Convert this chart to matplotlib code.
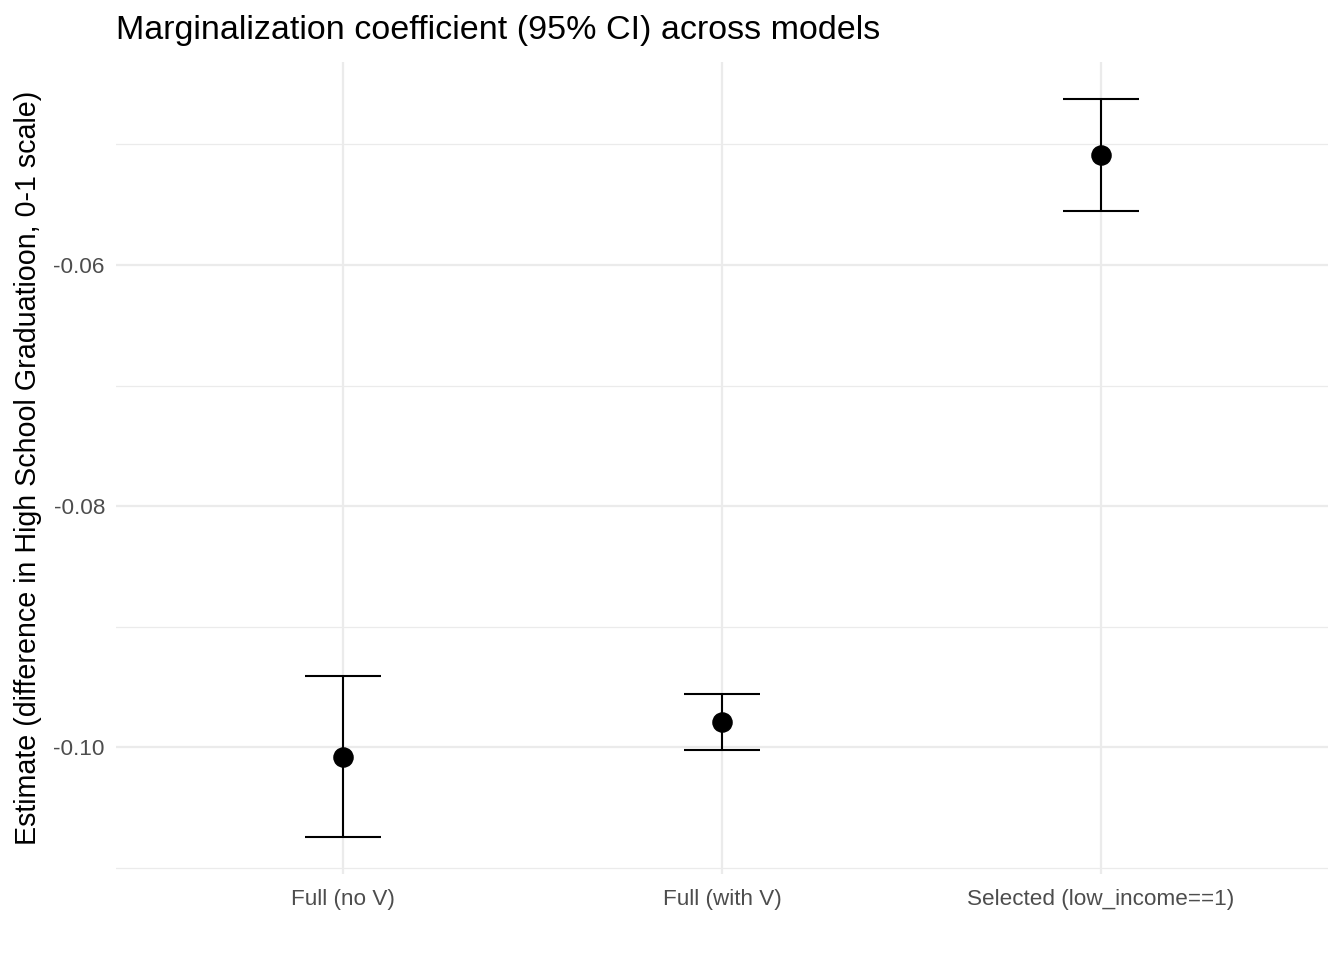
import numpy as np
import matplotlib.pyplot as plt

# values
models = ["Full (no V)", "Full (with V)", "Selected (low_income==1)"]
estimate = [-0.10083, -0.09793, -0.05087]
ci_low = [-0.10747, -0.10025, -0.05552]
ci_high = [-0.09411, -0.09560, -0.04622]

plt.rcParams['font.family'] = ['Liberation Sans', 'DejaVu Sans']

fig = plt.figure(figsize=(13.44, 9.6), dpi=100)
ax = fig.add_axes([116 / 1344, 1 - 874 / 960, (1328 - 116) / 1344, (874 - 62) / 960])

x = np.arange(1, len(models) + 1)

# grid like theme_minimal
for v in [-0.11, -0.09, -0.07, -0.05]:
    ax.axhline(v, color="#EBEBEB", lw=0.9, zorder=0)
for v in [-0.10, -0.08, -0.06]:
    ax.axhline(v, color="#EBEBEB", lw=1.6, zorder=0)
for xi in x:
    ax.axvline(xi, color="#EBEBEB", lw=1.6, zorder=0)

ax.vlines(x, ci_low, ci_high, color="black", lw=1.5, zorder=2)
ax.hlines(ci_low, x - 0.1, x + 0.1, color="black", lw=1.5, zorder=2)
ax.hlines(ci_high, x - 0.1, x + 0.1, color="black", lw=1.5, zorder=2)
ax.scatter(x, estimate, s=190, color="black", zorder=3)

lo, hi = min(ci_low), max(ci_high)
pad = (hi - lo) * 0.05
ax.set_ylim(lo - pad, hi + pad)
ax.set_xlim(0.4, 3.6)

ax.set_xticks(x)
ax.set_xticklabels(models)
ax.set_yticks([-0.10, -0.08, -0.06])
ax.set_yticklabels(["-0.10", "-0.08", "-0.06"])
ax.tick_params(length=0, labelsize=16.2, labelcolor="#4D4D4D")
ax.tick_params(axis="x", pad=11)
ax.tick_params(axis="y", pad=8)

for s in ax.spines.values():
    s.set_visible(False)

ax.set_ylabel("Estimate (difference in High School Graduatioon, 0-1 scale)", fontsize=20.6, labelpad=8)
fig.text(116 / 1344, 1 - 31 / 960, "Marginalization coefficient (95% CI) across models",
         fontsize=24.5, va="center", ha="left")

fig.savefig("out.png", dpi=100)
